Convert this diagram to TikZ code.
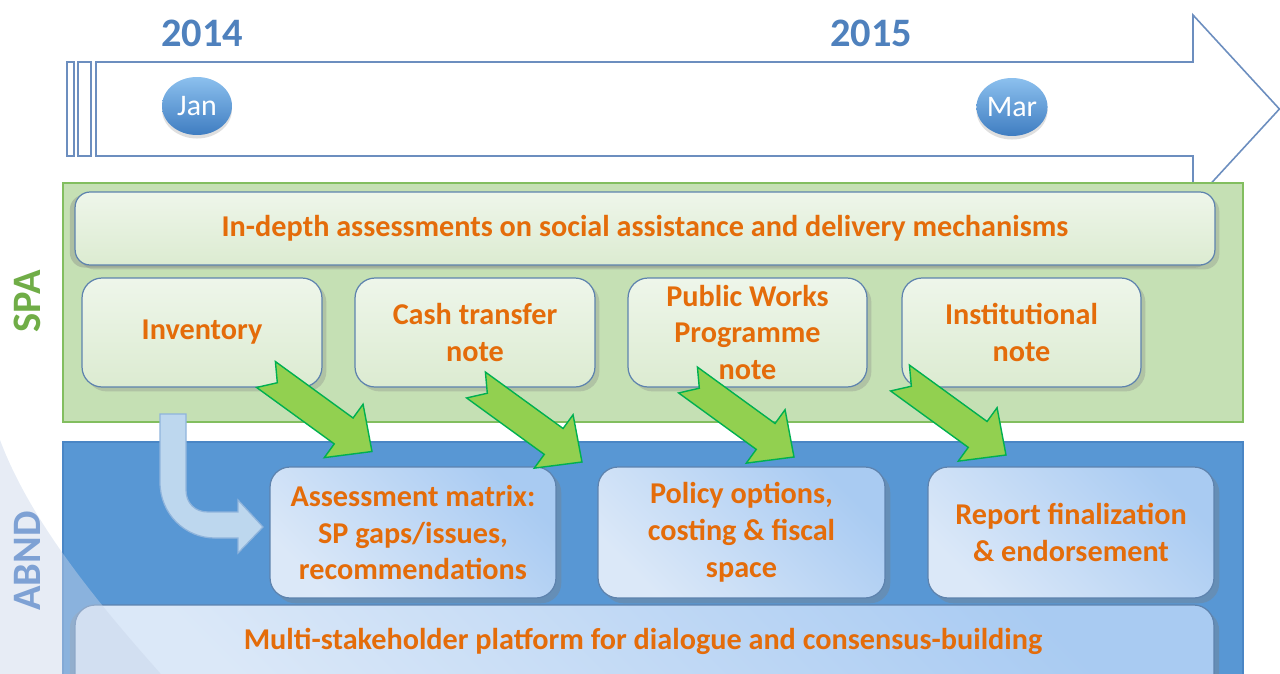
\documentclass[tikz,border=0pt]{standalone}
\usepackage{fontspec}
\setmainfont{Carlito}
\usetikzlibrary{shapes.geometric,shadows}
\definecolor{orangeT}{HTML}{E46C0A}
\definecolor{tlblue}{HTML}{6C8EBF}
\definecolor{yearblue}{HTML}{4F81BD}
\definecolor{spafill}{HTML}{C5E0B4}
\definecolor{spaborder}{HTML}{82BE5F}
\definecolor{spagreen}{HTML}{70AD47}
\definecolor{abndfill}{HTML}{5897D4}
\definecolor{abndborder}{HTML}{4A86C5}
\definecolor{abndtext}{HTML}{7EA1D4}
\definecolor{boxborder}{HTML}{5E83AE}
\definecolor{spatop}{HTML}{EEF6EA}
\definecolor{spabot}{HTML}{DCEBD1}
\definecolor{abtop}{HTML}{A9CBF2}
\definecolor{abbot}{HTML}{DBE8F8}
\definecolor{gfill}{HTML}{92D050}
\definecolor{gborder}{HTML}{00B050}
\definecolor{bentfill}{HTML}{BDD7EE}
\definecolor{bentborder}{HTML}{8FB4DC}
\definecolor{haze}{HTML}{C9D5E9}
\definecolor{balltop}{HTML}{8CC0EE}
\definecolor{ballbot}{HTML}{3F7DC1}
\newcommand\bxfont{\bfseries\fontsize{17.2}{21}\selectfont}
\tikzset{
  tl/.style={draw=tlblue, fill=white, line width=0.9pt, line join=miter},
  year/.style={text=yearblue, font=\bfseries\fontsize{23}{26}\selectfont, inner sep=0pt},
  month/.style={ellipse, minimum width=1.4cm, minimum height=1.16cm, inner sep=0pt,
    top color=balltop, bottom color=ballbot, text=white, font=\fontsize{17}{20}\selectfont,
    drop shadow={shadow xshift=0pt, shadow yshift=-2pt, opacity=0.25}},
  lane/.style={rotate=90, font=\bfseries\fontsize{23}{26}\selectfont, inner sep=0pt},
  spabox/.style={draw=boxborder, line width=0.7pt, rounded corners=0.4cm,
    top color=spatop, bottom color=spabot, inner sep=0pt, align=center,
    text=orangeT, font=\bxfont,
    drop shadow={shadow xshift=2.5pt, shadow yshift=-2.5pt, opacity=0.3}},
  abbox/.style={draw=boxborder, line width=0.7pt, rounded corners=0.4cm,
    top color=abtop, bottom color=abbot, shading angle=-45, inner sep=0pt, align=center,
    text=orangeT, font=\bxfont,
    drop shadow={shadow xshift=3pt, shadow yshift=-3pt, opacity=0.35}},
  lbl/.style={text=orangeT, font=\bxfont, inner sep=0pt, align=center},
  gar/.style={fill=gfill, draw=gborder, line width=0.8pt, line join=miter},
  garrow/.pic={\draw[gar] (0,16) -- (96,16) -- (96,33) -- (131,0) -- (96,-33) -- (96,-16) -- (0,-16) -- (14,0) -- cycle;}
}
\begin{document}
\begin{tikzpicture}[x=0.02cm,y=-0.02cm]
\useasboundingbox (0,0) rectangle (1280,673);
\clip (0,0) rectangle (1280,673);
% timeline
\draw[tl] (96,62) -- (1193,62) -- (1193,15) -- (1279.4,109) -- (1193,203) -- (1193,156) -- (96,156) -- cycle;
\draw[tl] (67,62) rectangle (74,156);
\draw[tl] (78,62) rectangle (91,156);
\node[year] (y2014) at (202,33) {2014};
\node[year] (y2015) at (871,33) {2015};
\node[month] (jan) at (197,106) {Jan};
\node[month] (mar) at (1012,107) {Mar};
% SPA band
\draw[fill=spafill, draw=spaborder, line width=0.8pt] (63,183) rectangle (1243,422);
\node[lane, text=spagreen] (spalbl) at (27,301) {SPA};
\node[spabox, minimum width=22.8cm, minimum height=1.46cm, rounded corners=0.3cm,
  drop shadow={shadow xshift=-3pt, shadow yshift=-1.5pt, opacity=0.35}] (indepth) at (645,228.5)
  {In-depth assessments on social assistance and delivery mechanisms};
\node[spabox, minimum width=4.8cm, minimum height=2.18cm] (inv) at (202,332.5) {Inventory};
\node[spabox, minimum width=4.8cm, minimum height=2.18cm] (cash) at (475,332.5) {Cash transfer\\note};
\node[spabox, minimum width=4.78cm, minimum height=2.18cm] (pwp) at (747.5,332.5) {Public Works\\Programme\\note};
\node[spabox, minimum width=4.78cm, minimum height=2.18cm] (inst) at (1021.5,332.5) {Institutional\\note};
% ABND band
\draw[fill=abndfill, draw=abndborder, line width=0.8pt] (63,442) rectangle (1243,700);
\node[abbox, minimum width=5.72cm, minimum height=2.62cm] (assess) at (413,532.5) {Assessment matrix:\\SP gaps/issues,\\recommendations};
\node[abbox, minimum width=5.74cm, minimum height=2.62cm] (policy) at (741.5,532.5) {Policy options,\\costing \& fiscal\\space};
\node[abbox, minimum width=5.72cm, minimum height=2.62cm] (report) at (1071,532.5) {Report finalization\\\& endorsement};
\node[abbox, minimum width=22.78cm, minimum height=1.9cm,
  drop shadow={shadow xshift=-3pt, shadow yshift=-2pt, opacity=0.35}] (multi) at (644.5,652.5) {};
\node[lbl] (multitxt) at (643,641) {Multi-stakeholder platform for dialogue and consensus-building};
% haze
\fill[haze, opacity=0.45] (0,440) .. controls (30,520) and (95,600) .. (160,673) -- (175,700) -- (0,700) -- cycle;
\node[lane, text=abndtext] (abndlbl) at (27,561) {ABND};
% bent arrow
\draw[fill=bentfill, draw=bentborder, line width=0.7pt, line join=miter]
  (160,414) -- (186,414) -- (186,490) .. controls (186,503) and (195,512) .. (208,512)
  -- (238,512) -- (238,500) -- (263,527) -- (238,553) -- (238,538) -- (215,538)
  .. controls (185,538) and (160,514) .. (160,482) -- cycle;
% green arrows
\pic (ga1) [rotate=-36] at (266,374.5) {garrow};
\pic (ga2) [rotate=-36] at (476,385) {garrow};
\pic (ga3) [rotate=-36] at (688,380) {garrow};
\pic (ga4) [rotate=-36] at (900,378) {garrow};
\end{tikzpicture}
\end{document}
